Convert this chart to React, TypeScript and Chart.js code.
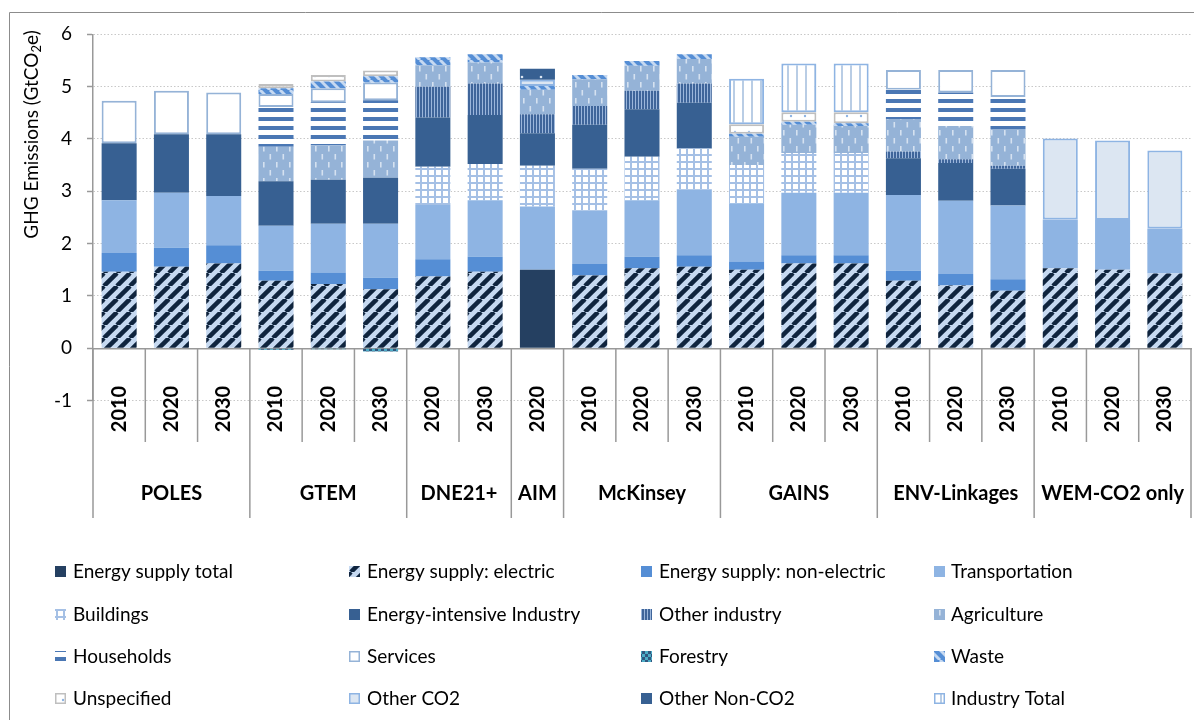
import React, { useEffect, useRef } from 'react';
import { Chart, registerables } from 'chart.js';
Chart.register(...registerables);

const FONT = "Lato, 'Open Sans', sans-serif";

const groups = ['POLES', 'GTEM', 'DNE21+', 'AIM', 'McKinsey', 'GAINS', 'ENV-Linkages', 'WEM-CO2 only'];
const groupSizes = [3, 3, 2, 1, 3, 3, 3, 3];
const years = ['2010', '2020', '2030', '2010', '2020', '2030', '2020', '2030', '2020', '2010', '2020', '2030',
  '2010', '2020', '2030', '2010', '2020', '2030', '2010', '2020', '2030'];
const yTicks = [-1, 0, 1, 2, 3, 4, 5, 6];

const N = null;
const energySupplyTotal = [N, N, N, N, N, N, N, N, 1.50, N, N, N, N, N, N, N, N, N, N, N, N];
const electric = [1.46, 1.56, 1.62, 1.29, 1.23, 1.13, 1.37, 1.46, N, 1.39, 1.53, 1.56, 1.50, 1.62, 1.62, 1.29, 1.20, 1.10, 1.53, 1.50, 1.43];
const nonElectric = [0.36, 0.36, 0.35, 0.19, 0.22, 0.22, 0.33, 0.29, N, 0.22, 0.22, 0.22, 0.16, 0.16, 0.16, 0.19, 0.22, 0.22, N, N, N];
const transportation = [1.01, 1.05, 0.94, 0.86, 0.93, 1.03, 1.04, 1.08, 1.21, 1.02, 1.08, 1.25, 1.11, 1.19, 1.19, 1.45, 1.40, 1.41, 0.93, 0.95, 0.86];
const buildings = [N, N, N, N, N, N, 0.73, 0.69, 0.78, 0.80, 0.83, 0.79, 0.73, 0.76, 0.76, N, N, N, N, N, N];
const energyIntensive = [1.09, 1.12, 1.18, 0.85, 0.84, 0.88, 0.94, 0.94, 0.62, 0.84, 0.91, 0.87, N, N, N, 0.70, 0.72, 0.70, N, N, N];
const otherIndustry = [N, N, N, N, N, N, 0.59, 0.60, 0.36, 0.36, 0.35, 0.37, N, N, N, 0.13, 0.07, 0.06, N, N, N];
const agriculture = [N, N, N, 0.66, 0.66, 0.71, 0.41, 0.40, 0.47, 0.51, 0.48, 0.47, 0.54, 0.54, 0.52, 0.62, 0.64, 0.70, N, N, N];
const households = [N, N, N, 0.76, 0.82, 0.77, N, N, N, N, N, N, N, N, N, 0.56, 0.64, 0.61, N, N, N];
const services = [0.81, 0.83, 0.80, 0.25, 0.27, 0.34, N, N, N, N, N, N, N, N, N, 0.38, 0.43, 0.52, N, N, N];
const forestry = [N, N, N, -0.03, -0.02, -0.06, N, N, N, N, N, N, N, N, N, N, N, N, N, N, N];
const waste = [N, N, N, 0.11, 0.13, 0.12, 0.15, 0.16, 0.07, 0.08, 0.09, 0.09, 0.06, 0.06, 0.05, N, N, N, N, N, N];
const unspecified = [N, N, N, 0.08, 0.12, 0.11, N, N, N, N, N, N, 0.18, 0.18, 0.21, N, N, N, N, N, N];
const otherCO2 = [N, N, N, N, N, N, N, N, 0.12, N, N, N, N, N, N, N, N, N, 1.55, 1.52, 1.49];
const otherNonCO2 = [N, N, N, N, N, N, N, N, 0.21, N, N, N, N, N, N, N, N, N, N, N, N];
const industryTotal = [N, N, N, N, N, N, N, N, N, N, N, N, 0.87, 0.93, 0.93, N, N, N, N, N, N];

const seriesNames = ['Energy supply total', 'Energy supply: electric', 'Energy supply: non-electric', 'Transportation',
  'Buildings', 'Energy-intensive Industry', 'Other industry', 'Agriculture',
  'Households', 'Services', 'Forestry', 'Waste',
  'Unspecified', 'Other CO2', 'Other Non-CO2', 'Industry Total'];
const seriesData = [energySupplyTotal, electric, nonElectric, transportation, buildings, energyIntensive, otherIndustry,
  agriculture, households, services, forestry, waste, unspecified, otherCO2, otherNonCO2, industryTotal];

function makePattern(w: number, h: number, draw: (g: CanvasRenderingContext2D) => void): CanvasPattern {
  const c = document.createElement('canvas');
  c.width = w; c.height = h;
  const g = c.getContext('2d')!;
  draw(g);
  return g.createPattern(c, 'repeat')!;
}

function diag(bg: string, fg: string, s: number, lw: number, dir: string) {
  return makePattern(s, s, (g) => {
    g.fillStyle = bg; g.fillRect(0, 0, s, s);
    g.strokeStyle = fg; g.lineWidth = lw;
    for (let k = -1; k <= 1; k++) {
      g.beginPath();
      if (dir === '/') { g.moveTo(k * s, s); g.lineTo(k * s + s, 0); }
      else { g.moveTo(k * s, 0); g.lineTo(k * s + s, s); }
      g.stroke();
    }
  });
}

function buildStyles() {
  const electricP = diag('#C6D9F1', '#0F243E', 13, 4.5, '/');
  const buildingsP = makePattern(7, 7, (g) => {
    g.fillStyle = '#FFFFFF'; g.fillRect(0, 0, 7, 7);
    g.fillStyle = '#A5C0E5'; g.fillRect(0, 0, 7, 2); g.fillRect(0, 0, 2, 7);
  });
  const otherIndP = makePattern(3, 3, (g) => {
    g.fillStyle = '#9BB6DB'; g.fillRect(0, 0, 3, 3);
    g.fillStyle = '#3F659A'; g.fillRect(0, 0, 2, 3);
  });
  const agriP = makePattern(13, 16, (g) => {
    g.fillStyle = '#95B3D7'; g.fillRect(0, 0, 13, 16);
    g.fillStyle = '#D5E1F0'; g.fillRect(3, 2, 1.6, 5.5); g.fillRect(9.5, 10, 1.6, 5.5);
  });
  const householdsP = makePattern(4, 9, (g) => {
    g.fillStyle = '#FFFFFF'; g.fillRect(0, 0, 4, 9);
    g.fillStyle = '#4A77B4'; g.fillRect(0, 0, 4, 4);
  });
  const forestryP = makePattern(6, 6, (g) => {
    g.fillStyle = '#31577F'; g.fillRect(0, 0, 6, 6);
    g.fillStyle = '#4BACC6'; g.fillRect(0, 0, 3, 3); g.fillRect(3, 3, 3, 3);
  });
  const wasteP = diag('#558ED5', '#C6D9F1', 10, 3, '\\');
  const unspecP = makePattern(14, 8, (g) => {
    g.fillStyle = '#FFFFFF'; g.fillRect(0, 0, 14, 8);
    g.fillStyle = '#8EB4E3'; g.beginPath(); g.arc(7, 4, 1.2, 0, Math.PI * 2); g.fill();
  });
  const nonCO2P = makePattern(19, 14, (g) => {
    g.fillStyle = '#376092'; g.fillRect(0, 0, 19, 14);
    g.fillStyle = '#DCE6F2'; g.beginPath(); g.arc(9, 7, 1.3, 0, Math.PI * 2); g.fill();
  });
  const indTotP = makePattern(9, 2, (g) => {
    g.fillStyle = '#FFFFFF'; g.fillRect(0, 0, 9, 2);
    g.fillStyle = '#B9CDE5'; g.fillRect(4, 0, 2, 2);
  });
  return [
    { bg: '#254061' },
    { bg: electricP },
    { bg: '#558ED5' },
    { bg: '#8EB4E3' },
    { bg: buildingsP },
    { bg: '#376092' },
    { bg: otherIndP },
    { bg: agriP },
    { bg: householdsP },
    { bg: '#FFFFFF', border: '#95B3D7' },
    { bg: forestryP },
    { bg: wasteP },
    { bg: unspecP, border: '#BFBFBF' },
    { bg: '#DCE6F2', border: '#8EB4E3' },
    { bg: nonCO2P },
    { bg: indTotP, border: '#8EB4E3' },
  ] as { bg: any; border?: string }[];
}

export default function App() {
  const ref = useRef<HTMLCanvasElement>(null);
  useEffect(() => {
    document.body.style.margin = '0';
    const styles = buildStyles();

    const overlay = {
      id: 'overlay',
      afterDraw(chart: any) {
        const ctx: CanvasRenderingContext2D = chart.ctx;
        const xs = chart.scales.x;
        const ys = chart.scales.y;
        const y0 = ys.getPixelForValue(0);
        const step = xs.getPixelForValue(1) - xs.getPixelForValue(0);
        const edge = (k: number) => (k < years.length ? xs.getPixelForValue(k) - step / 2 : xs.getPixelForValue(years.length - 1) + step / 2);
        ctx.save();
        // outer frame
        ctx.strokeStyle = '#8C8C8C';
        ctx.lineWidth = 1;
        ctx.beginPath();
        ctx.moveTo(9.5, 720); ctx.lineTo(9.5, 12.5); ctx.lineTo(1194, 12.5);
        ctx.stroke();
        // separators
        const groupEdges: number[] = [0];
        groupSizes.forEach((n) => groupEdges.push(groupEdges[groupEdges.length - 1] + n));
        ctx.strokeStyle = '#999999';
        ctx.lineWidth = 1.5;
        for (let k = 0; k <= years.length; k++) {
          const x = edge(k);
          const isGroup = groupEdges.indexOf(k) >= 0;
          ctx.beginPath();
          ctx.moveTo(x, y0);
          ctx.lineTo(x, isGroup ? 518 : 442);
          ctx.stroke();
        }
        // year labels
        ctx.fillStyle = '#000';
        ctx.font = `bold 20px ${FONT}`;
        ctx.textAlign = 'center';
        ctx.textBaseline = 'middle';
        years.forEach((yr, i) => {
          ctx.save();
          ctx.translate(xs.getPixelForValue(i), 409);
          ctx.rotate(-Math.PI / 2);
          ctx.fillText(yr, 0, 0);
          ctx.restore();
        });
        // group labels
        groups.forEach((g, gi) => {
          const xa = edge(groupEdges[gi]);
          const xb = edge(groupEdges[gi + 1]);
          ctx.fillText(g, (xa + xb) / 2, 494);
        });
        // axis title
        ctx.save();
        ctx.translate(32, 134.5);
        ctx.rotate(-Math.PI / 2);
        ctx.font = `19px ${FONT}`;
        const t1 = 'GHG Emissions (GtCO';
        const t3 = 'e)';
        const w1 = ctx.measureText(t1).width;
        const w3 = ctx.measureText(t3).width;
        ctx.font = `13px ${FONT}`;
        const w2 = ctx.measureText('2').width;
        const total = w1 + w2 + w3;
        let cx = -total / 2;
        ctx.textAlign = 'left';
        ctx.font = `19px ${FONT}`;
        ctx.fillText(t1, cx, 0);
        cx += w1;
        ctx.font = `13px ${FONT}`;
        ctx.fillText('2', cx, 5);
        cx += w2;
        ctx.font = `19px ${FONT}`;
        ctx.fillText(t3, cx, 0);
        ctx.restore();
        // legend
        const colSw = [55, 349, 641, 934];
        const colTx = [73, 367, 659, 951];
        const rowY = [572, 615, 657, 699];
        ctx.font = `19px ${FONT}`;
        ctx.textAlign = 'left';
        ctx.textBaseline = 'middle';
        seriesNames.forEach((name, i) => {
          const r = Math.floor(i / 4);
          const c = i % 4;
          const st = styles[i];
          const sx = colSw[c];
          const sy = rowY[r] - 6;
          ctx.fillStyle = st.bg;
          ctx.fillRect(sx, sy, 11, 11);
          if (st.border) {
            ctx.strokeStyle = st.border;
            ctx.lineWidth = 1.5;
            ctx.strokeRect(sx + 0.75, sy + 0.75, 9.5, 9.5);
          }
          ctx.fillStyle = '#000';
          ctx.fillText(name, colTx[c], rowY[r]);
        });
        ctx.restore();
      },
    };

    const chart = new Chart(ref.current!, {
      type: 'bar',
      data: {
        labels: years,
        datasets: seriesNames.map((name, i) => ({
          label: name,
          data: seriesData[i] as any,
          backgroundColor: styles[i].bg,
          borderColor: styles[i].border || 'rgba(0,0,0,0)',
          borderWidth: styles[i].border ? 2 : 0,
          borderSkipped: false,
          barPercentage: 0.67,
          categoryPercentage: 1.0,
        })),
      },
      options: {
        responsive: false,
        animation: false,
        devicePixelRatio: 1,
        layout: { padding: { left: 0, right: 3, top: 34.3, bottom: 319.4 } },
        plugins: { legend: { display: false }, tooltip: { enabled: false }, title: { display: false } },
        scales: {
          x: {
            type: 'category',
            stacked: true,
            position: { y: 0 } as any,
            grid: { display: false },
            ticks: { display: false },
            border: { display: true, color: '#999999', width: 1.5 },
          },
          y: {
            type: 'linear',
            stacked: true,
            min: -1,
            max: 6,
            afterBuildTicks: (s: any) => { s.ticks = yTicks.map((v) => ({ value: v })); },
            afterFit: (s: any) => { s.width = 93; },
            ticks: { font: { family: FONT, size: 19 }, color: '#000', padding: 15 },
            grid: { color: '#C8C8C8', lineWidth: 1, drawTicks: true, tickLength: 6, tickColor: '#999999', tickWidth: 1.5 },
            border: { display: true, color: '#999999', width: 1.5, dash: [1.5, 2] },
          },
        },
      },
      plugins: [overlay],
    } as any);
    return () => chart.destroy();
  }, []);
  return (
    <div style={{ width: 1194, height: 720, position: 'relative' }}>
      <canvas ref={ref} width={1194} height={720} style={{ display: 'block' }} />
    </div>
  );
}
